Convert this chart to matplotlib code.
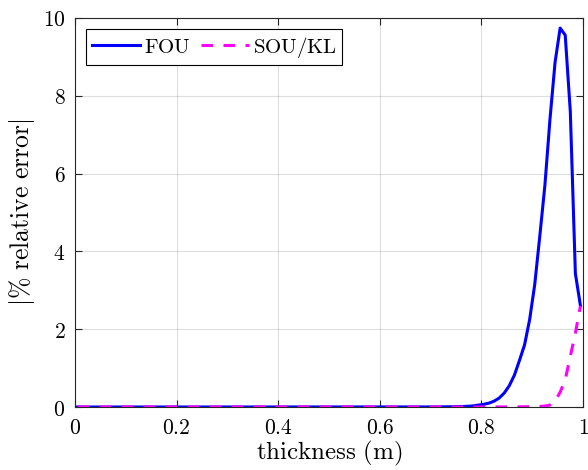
import matplotlib
matplotlib.use("Agg")
import matplotlib.pyplot as plt
from matplotlib.ticker import FixedLocator, FixedFormatter

plt.rcParams['mathtext.fontset'] = 'cm'
plt.rcParams['font.family'] = 'serif'
plt.rcParams['font.serif'] = ['DejaVu Serif']

# data
x = [0.005, 0.705, 0.715, 0.725, 0.735, 0.745, 0.755, 0.765, 0.775, 0.785,
     0.795, 0.805, 0.815, 0.825, 0.835, 0.845, 0.855, 0.865, 0.875, 0.885,
     0.895, 0.905, 0.915, 0.925, 0.935, 0.945, 0.955, 0.965, 0.975, 0.985,
     0.995]
fou = [0.0, 0.002, 0.003, 0.004, 0.006, 0.008, 0.011, 0.015, 0.02, 0.03,
       0.05, 0.07, 0.10, 0.15, 0.23, 0.36, 0.55, 0.82, 1.2, 1.6,
       2.25, 3.15, 4.4, 5.7, 7.4, 8.86, 9.74, 9.56, 7.6, 3.43,
       2.6]
sou = [0.0, 0.0, 0.0, 0.0, 0.0, 0.0, 0.0, 0.0, 0.0, 0.0,
       0.0, 0.0, 0.001, 0.001, 0.002, 0.002, 0.003, 0.004, 0.005, 0.006,
       0.008, 0.01, 0.015, 0.025, 0.05, 0.15, 0.38, 0.7, 1.3, 1.9,
       2.6]
xticks = [0, 0.2, 0.4, 0.6, 0.8, 1]
xticklabels = ['$0$', '$0.2$', '$0.4$', '$0.6$', '$0.8$', '$1$']
yticks = [0, 2, 4, 6, 8, 10]
yticklabels = ['$0$', '$2$', '$4$', '$6$', '$8$', '$10$']

fig = plt.figure(figsize=(5.88, 4.70), dpi=100)
ax = fig.add_axes([75/588, 1-407/470, 508/588, 389/470])

ax.plot(x, fou, color=(0, 0, 1), lw=2.2, label=r'$\mathrm{FOU}$')
ax.plot(x, sou, color=(1, 0, 1), lw=2.2, ls=(0, (3.8, 3.4)), label=r'$\mathrm{SOU/KL}$')

ax.set_xlim(0, 1)
ax.set_ylim(0, 10)
ax.xaxis.set_major_locator(FixedLocator(xticks))
ax.xaxis.set_major_formatter(FixedFormatter(xticklabels))
ax.yaxis.set_major_locator(FixedLocator(yticks))
ax.yaxis.set_major_formatter(FixedFormatter(yticklabels))

axc = (0.15, 0.15, 0.15)
ax.tick_params(direction='in', top=True, right=True, length=5, width=0.8,
               colors=axc, labelcolor='black', labelsize=15.5, pad=7)
for s in ax.spines.values():
    s.set_color(axc)
    s.set_linewidth(0.8)
ax.grid(True, color=(0.15, 0.15, 0.15), alpha=0.15, lw=0.8)

ax.set_xlabel(r'$\mathrm{thickness\ (m)}$', fontsize=18, labelpad=0)
ax.set_ylabel(r'$|\%\ \mathrm{relative\ error}|$', fontsize=18.5, labelpad=4)

leg = ax.legend(loc='upper left', ncol=2, fontsize=15, frameon=True, fancybox=False,
                framealpha=1, edgecolor='black', handlelength=2.3, handletextpad=0.2,
                columnspacing=0.5, borderpad=0.25, borderaxespad=0.55)
leg.get_frame().set_linewidth(0.8)

fig.savefig('out.png', dpi=100)
